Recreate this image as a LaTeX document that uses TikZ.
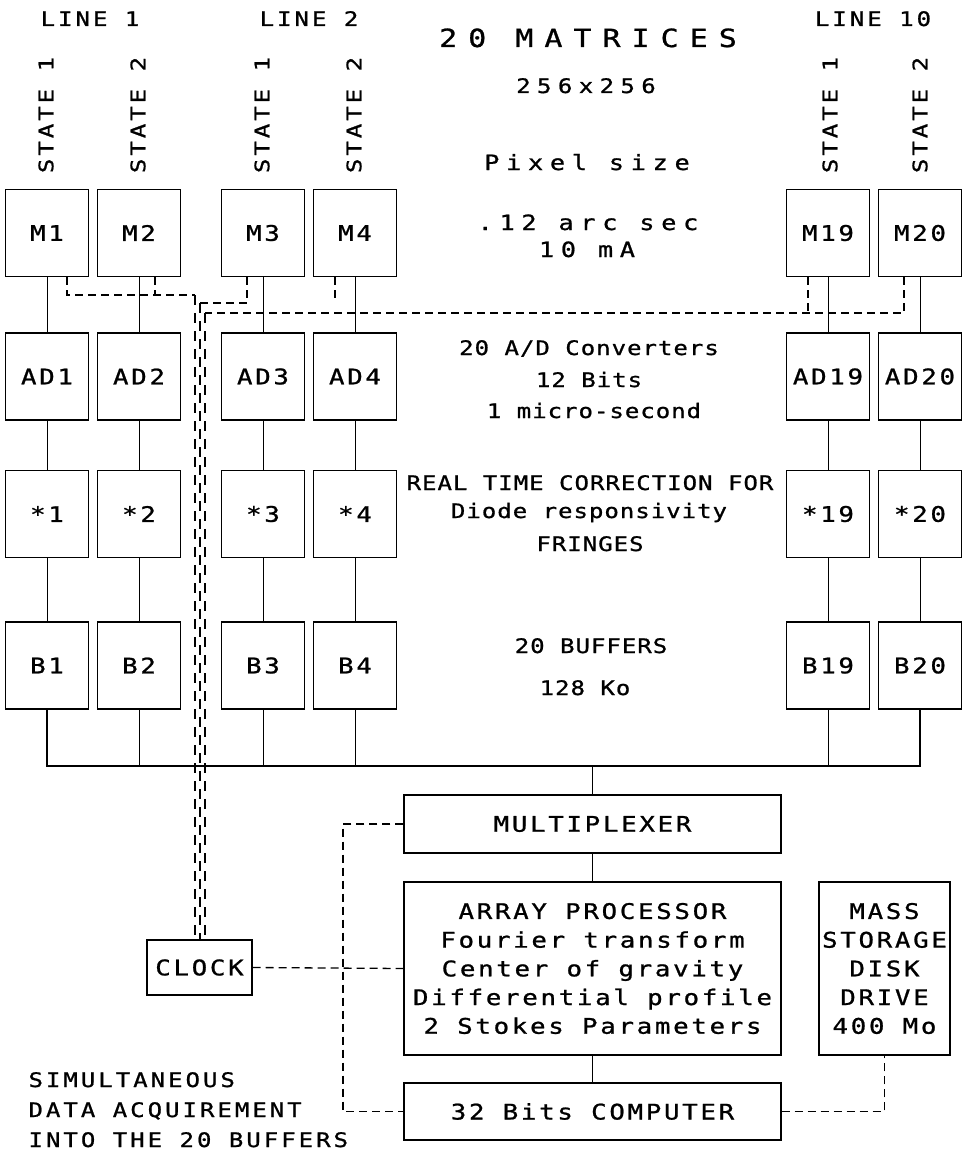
\documentclass[tikz,border=0pt]{standalone}
\usepackage{fontspec}
\newfontfamily\plotfont[FakeStretch=1.2,FakeBold=1,LetterSpace=5]{DejaVu Sans Mono}
\newfontfamily\boxfont[FakeStretch=1.2,FakeBold=1,LetterSpace=12.5]{DejaVu Sans Mono}
\newfontfamily\hdrfont[FakeStretch=1.2,FakeBold=1,LetterSpace=15]{DejaVu Sans Mono}
\newfontfamily\plotwide[FakeStretch=1.2,FakeBold=1,LetterSpace=32]{DejaVu Sans Mono}
\newfontfamily\titlefont[FakeStretch=1.2,FakeBold=1,LetterSpace=44]{DejaVu Sans Mono}
\begin{document}
\begin{tikzpicture}[x=1pt,y=-1pt,
  blk/.style={draw,line width=1.3pt,minimum width=83pt,minimum height=87pt,inner sep=0pt,font=\boxfont\fontsize{21.5}{24}\selectfont},
  unit/.style={draw,line width=1.3pt,inner sep=0pt,align=center,font=\boxfont\fontsize{21.5}{28.7}\selectfont},
  note/.style={anchor=base,font=\plotfont\fontsize{20}{24}\selectfont},
  hdr/.style={anchor=base,font=\hdrfont\fontsize{20}{22}\selectfont},
  wire/.style={line width=1pt},
  ctl/.style={line width=1.3pt,dash pattern=on 8pt off 5pt},
  clkbus/.style={line width=1.3pt,dash pattern=on 10pt off 8pt}]
  \useasboundingbox (0,0) rectangle (967,1153);

  % line / state headers
  \node[hdr] at (90,26) (L1) {LINE 1};
  \node[hdr] at (309,26) (L2) {LINE 2};
  \node[hdr] at (873,26) (L10) {LINE 10};
  \node[hdr,anchor=center,rotate=90] at (46,115) (S1) {STATE 1};
  \node[hdr,anchor=center,rotate=90] at (138,115) (S2) {STATE 2};
  \node[hdr,anchor=center,rotate=90] at (262,115) (S3) {STATE 1};
  \node[hdr,anchor=center,rotate=90] at (354,115) (S4) {STATE 2};
  \node[hdr,anchor=center,rotate=90] at (830,115) (S19) {STATE 1};
  \node[hdr,anchor=center,rotate=90] at (920,115) (S20) {STATE 2};

  % matrices
  \node[blk] at (47,233) (M1) {M1};
  \node[blk] at (139,233) (M2) {M2};
  \node[blk] at (263,233) (M3) {M3};
  \node[blk] at (355,233) (M4) {M4};
  \node[blk] at (828,233) (M19) {M19};
  \node[blk] at (920,233) (M20) {M20};
  % converters
  \node[blk] at (47,376.5) (AD1) {AD1};
  \node[blk] at (139,376.5) (AD2) {AD2};
  \node[blk] at (263,376.5) (AD3) {AD3};
  \node[blk] at (355,376.5) (AD4) {AD4};
  \node[blk] at (828,376.5) (AD19) {AD19};
  \node[blk] at (920,376.5) (AD20) {AD20};
  % correction
  \node[blk] at (47,514) (ST1) {*1};
  \node[blk] at (139,514) (ST2) {*2};
  \node[blk] at (263,514) (ST3) {*3};
  \node[blk] at (355,514) (ST4) {*4};
  \node[blk] at (828,514) (ST19) {*19};
  \node[blk] at (920,514) (ST20) {*20};
  % buffers
  \node[blk] at (47,665.5) (B1) {B1};
  \node[blk] at (139,665.5) (B2) {B2};
  \node[blk] at (263,665.5) (B3) {B3};
  \node[blk] at (355,665.5) (B4) {B4};
  \node[blk] at (828,665.5) (B19) {B19};
  \node[blk] at (920,665.5) (B20) {B20};

  \draw[wire] (M1) -- (AD1) -- (ST1) -- (B1);
  \draw[wire] (M2) -- (AD2) -- (ST2) -- (B2);
  \draw[wire] (M3) -- (AD3) -- (ST3) -- (B3);
  \draw[wire] (M4) -- (AD4) -- (ST4) -- (B4);
  \draw[wire] (M19) -- (AD19) -- (ST19) -- (B19);
  \draw[wire] (M20) -- (AD20) -- (ST20) -- (B20);

  % middle notes
  \node[hdr,font=\titlefont\fontsize{25}{28}\selectfont] at (588,47) (T1) {20 MATRICES};
  \node[hdr,font=\plotwide\fontsize{20}{22}\selectfont] at (586,93) (T2) {256x256};
  \node[hdr,font=\plotwide\fontsize{21}{22}\selectfont] at (587,170) (T3) {Pixel size};
  \node[hdr,font=\plotwide\fontsize{21}{22}\selectfont] at (588,230) (T4) {.12 arc sec};
  \node[hdr,font=\plotwide\fontsize{21}{22}\selectfont] at (587,257) (T5) {10 mA};
  \node[note] at (589,355) (T6) {20 A/D Converters};
  \node[note] at (589,387) (T7) {12 Bits};
  \node[note] at (594,418) (T8) {1 micro-second};
  \node[note] at (590,490) (T9) {REAL TIME CORRECTION FOR};
  \node[note] at (589,518) (T10) {Diode responsivity};
  \node[note] at (590,551) (T11) {FRINGES};
  \node[note] at (591,653) (T12) {20 BUFFERS};
  \node[note] at (585,695) (T13) {128 Ko};

  % common bus
  \coordinate (BUS) at (592.5,766);
  \draw[line width=1.3pt] (B1.south) -- (B1.south |- BUS) -- (B20.south |- BUS) -- (B20.south);
  \draw[wire] (B2.south) -- (B2.south |- BUS);
  \draw[wire] (B3.south) -- (B3.south |- BUS);
  \draw[wire] (B4.south) -- (B4.south |- BUS);
  \draw[wire] (B19.south) -- (B19.south |- BUS);

  % processing chain
  \node[unit,minimum width=377pt,minimum height=58pt] at (592.5,824) (MUX) {MULTIPLEXER};
  \node[unit,minimum width=377pt,minimum height=173pt] at (592.5,968.5) (AP)
    {ARRAY PROCESSOR\\Fourier transform\\Center of gravity\\Differential profile\\2 Stokes Parameters};
  \node[unit,minimum width=377pt,minimum height=57pt] at (592.5,1111.5) (COMP) {32 Bits COMPUTER};
  \node[unit,minimum width=131pt,minimum height=173pt] at (884.5,968.5) (MASS) {MASS\\STORAGE\\DISK\\DRIVE\\400 Mo};
  \node[unit,minimum width=105pt,minimum height=55pt] at (199.5,967.5) (CLK) {CLOCK};

  \draw[wire] (BUS) -- (MUX);
  \draw[wire] (MUX) -- (AP);
  \draw[wire] (AP) -- (COMP);

  % clock lines
  \coordinate (TA) at (195,295);
  \coordinate (TB) at (200,303);
  \coordinate (TC) at (205,313);
  \draw[ctl] ([xshift=20pt]M1.south) |- (TA);
  \draw[ctl] ([xshift=16pt]M2.south) -- ([xshift=16pt]M2.south |- TA);
  \draw[ctl] ([xshift=-16pt]M3.south) |- (TB);
  \draw[ctl] ([xshift=-20pt]M4.south) -- ([xshift=-20pt]M4.south |- TB);
  \draw[ctl] ([xshift=-16pt]M20.south) |- (TC);
  \draw[ctl] ([xshift=-20pt]M19.south) -- ([xshift=-20pt]M19.south |- TC);
  \draw[clkbus] (TA) -- (TA |- CLK.north);
  \draw[clkbus] (TB) -- (TB |- CLK.north);
  \draw[clkbus] (TC) -- (TC |- CLK.north);

  \coordinate (LD) at (343,824);
  \draw[ctl] (MUX.west) -- (LD) -- (LD |- COMP.west) -- (COMP.west);
  \draw[ctl] (CLK.east) -- (AP.west);
  \draw[ctl] (COMP.east) -| (MASS.south);

  \node[hdr,anchor=base west] at (25,1087) (N1) {SIMULTANEOUS};
  \node[hdr,anchor=base west] at (25,1117) (N2) {DATA ACQUIREMENT};
  \node[hdr,anchor=base west] at (25,1147) (N3) {INTO THE 20 BUFFERS};
\end{tikzpicture}
\end{document}
